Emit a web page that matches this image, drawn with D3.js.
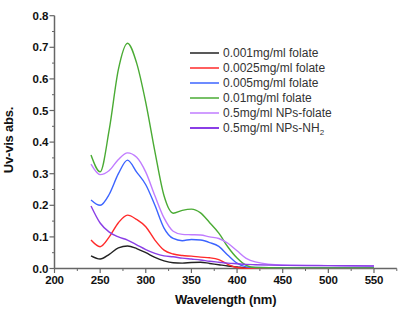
<!DOCTYPE html>
<html>
<head>
<meta charset="utf-8">
<script src="https://cdn.jsdelivr.net/npm/d3@7"></script>
<style>
  body { margin: 0; background: #fff; }
  svg { display: block; font-family: "Liberation Sans", Arial, sans-serif; }
</style>
</head>
<body>
<svg id="chart" width="403" height="314"></svg>
<script>
// wavelengths (nm) shared by all spectra
const wavelength = [240, 250, 260, 270, 280, 290, 300, 310, 320, 330, 340, 350, 360, 370, 380, 390, 400, 410, 420, 450, 500, 550];

const folate001  = [0.040, 0.030, 0.045, 0.065, 0.071, 0.063, 0.050, 0.035, 0.024, 0.018, 0.017, 0.019, 0.020, 0.016, 0.012, 0.008, 0.005, 0.002, 0.001, 0.001, 0.001, 0.001];
const folate0025 = [0.090, 0.069, 0.100, 0.145, 0.169, 0.155, 0.132, 0.090, 0.058, 0.046, 0.041, 0.039, 0.036, 0.034, 0.028, 0.013, 0.003, 0.001, 0.001, 0.001, 0.001, 0.001];
const folate005  = [0.217, 0.200, 0.235, 0.300, 0.343, 0.305, 0.265, 0.200, 0.128, 0.095, 0.088, 0.092, 0.090, 0.082, 0.070, 0.042, 0.017, 0.005, 0.003, 0.002, 0.002, 0.002];
const folate01   = [0.359, 0.306, 0.440, 0.630, 0.713, 0.650, 0.525, 0.370, 0.230, 0.175, 0.184, 0.188, 0.176, 0.145, 0.112, 0.068, 0.033, 0.010, 0.003, 0.002, 0.002, 0.002];
const npsFolate  = [0.330, 0.297, 0.310, 0.345, 0.366, 0.352, 0.305, 0.230, 0.160, 0.118, 0.108, 0.107, 0.106, 0.100, 0.095, 0.080, 0.056, 0.032, 0.021, 0.011, 0.009, 0.008];
const npsNH2     = [0.198, 0.144, 0.115, 0.100, 0.090, 0.075, 0.060, 0.048, 0.040, 0.037, 0.033, 0.030, 0.027, 0.023, 0.020, 0.017, 0.015, 0.013, 0.012, 0.010, 0.009, 0.008];

const seriesNames = ["0.001mg/ml folate", "0.0025mg/ml folate", "0.005mg/ml folate", "0.01mg/ml folate", "0.5mg/ml NPs-folate", "0.5mg/ml NPs-NH"];
const seriesColors = ["#222222", "#ff2a2a", "#3c64ff", "#4aab34", "#c07cff", "#8a3ee6"];
const seriesValues = [folate001, folate0025, folate005, folate01, npsFolate, npsNH2];

const xTicks = [200, 250, 300, 350, 400, 450, 500, 550];
const yTicks = [0, 0.1, 0.2, 0.3, 0.4, 0.5, 0.6, 0.7, 0.8];

const svg = d3.select("#chart");

const x = d3.scaleLinear().domain([200, 575]).range([54.5, 396.8]);
const y = d3.scaleLinear().domain([0, 0.8]).range([268.5, 15.7]);

const axisColor = "#666";

// x axis
const xAxis = svg.append("g").attr("transform", `translate(0,${y(0)})`);
xAxis.append("line").attr("x1", x(200)).attr("x2", x(575)).attr("stroke", axisColor).attr("stroke-width", 1.5);
xAxis.selectAll(".minor").data(d3.range(225, 600, 50)).enter().append("line")
  .attr("x1", d => x(d)).attr("x2", d => x(d)).attr("y1", 0).attr("y2", 2.5)
  .attr("stroke", axisColor).attr("stroke-width", 1);
xAxis.selectAll(".major").data(xTicks).enter().append("line")
  .attr("x1", d => x(d)).attr("x2", d => x(d)).attr("y1", 0).attr("y2", 4.5)
  .attr("stroke", axisColor).attr("stroke-width", 1.2);
xAxis.selectAll("text").data(xTicks).enter().append("text")
  .attr("x", d => x(d)).attr("y", 15.5)
  .attr("text-anchor", "middle")
  .attr("font-size", 11.5).attr("font-weight", "bold").attr("letter-spacing", -0.2)
  .attr("fill", "#111")
  .text(d => d);

// y axis
const yAxis = svg.append("g").attr("transform", `translate(${x(200)},0)`);
yAxis.append("line").attr("y1", y(0)).attr("y2", y(0.8)).attr("stroke", axisColor).attr("stroke-width", 1.5);
yAxis.selectAll(".minor").data(d3.range(0.05, 0.8, 0.1)).enter().append("line")
  .attr("y1", d => y(d)).attr("y2", d => y(d)).attr("x1", 0).attr("x2", -2.5)
  .attr("stroke", axisColor).attr("stroke-width", 1);
yAxis.selectAll(".major").data(yTicks).enter().append("line")
  .attr("y1", d => y(d)).attr("y2", d => y(d)).attr("x1", 0).attr("x2", -5)
  .attr("stroke", axisColor).attr("stroke-width", 1.2);
yAxis.selectAll("text").data(yTicks).enter().append("text")
  .attr("x", -6).attr("y", d => y(d)).attr("dy", "0.35em")
  .attr("text-anchor", "end")
  .attr("font-size", 11.5).attr("font-weight", "bold").attr("letter-spacing", 0)
  .attr("fill", "#111")
  .text(d => d.toFixed(1));

// axis titles
svg.append("text")
  .attr("x", (x(200) + x(575)) / 2).attr("y", 304)
  .attr("text-anchor", "middle")
  .attr("font-size", 13).attr("font-weight", "bold").attr("letter-spacing", -0.2)
  .attr("fill", "#111")
  .text("Wavelength (nm)");

svg.append("text")
  .attr("transform", `translate(13,140) rotate(-90)`)
  .attr("text-anchor", "middle")
  .attr("font-size", 13).attr("font-weight", "bold").attr("letter-spacing", -0.2)
  .attr("fill", "#111")
  .text("Uv-vis abs.");

// spectra
const line = d3.line()
  .x(d => x(d[0]))
  .y(d => y(d[1]))
  .curve(d3.curveMonotoneX);

svg.append("g").selectAll("path")
  .data(seriesValues)
  .enter()
  .append("path")
  .attr("d", vals => line(wavelength.map((w, i) => [w, vals[i]])))
  .attr("fill", "none")
  .attr("stroke", (d, i) => seriesColors[i])
  .attr("stroke-width", 1.4);

// legend
const legend = svg.append("g").attr("transform", "translate(190,53)");
const rows = legend.selectAll("g").data(seriesNames).enter().append("g")
  .attr("transform", (d, i) => `translate(0,${i * 15})`);
rows.append("line").attr("x1", 0).attr("x2", 29)
  .attr("stroke", (d, i) => seriesColors[i]).attr("stroke-width", (d, i) => i === 5 ? 2 : 1.5);
const labels = rows.append("text").attr("x", 33).attr("dy", "0.35em")
  .attr("font-size", 12).attr("fill", "#333")
  .text(d => d);
labels.filter((d, i) => i === 5).append("tspan")
  .attr("font-size", 8).attr("dy", 3).text("2");
</script>
</body>
</html>
